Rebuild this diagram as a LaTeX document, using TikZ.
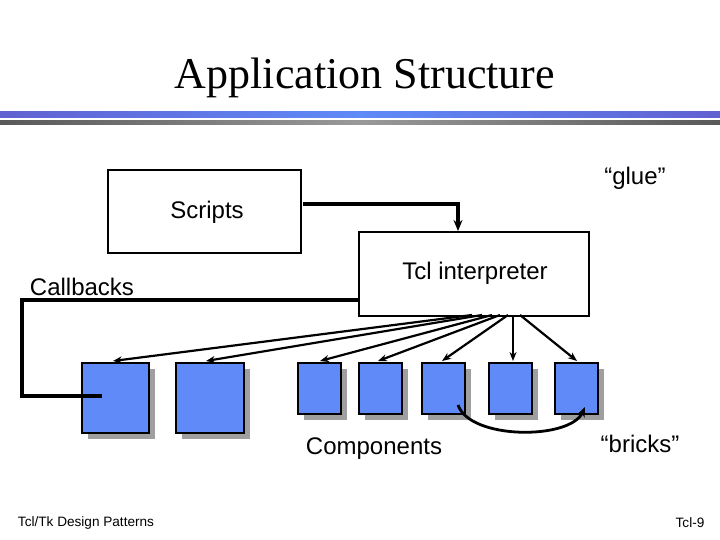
\documentclass[tikz,border=0pt]{standalone}
\usepackage{fontspec}
\setmainfont{Liberation Sans}
\newfontfamily\titlefont{Liberation Serif}
\usetikzlibrary{arrows.meta}
\definecolor{bblue}{HTML}{5F8AF8}
\begin{document}
\begin{tikzpicture}[x=1pt,y=-1pt,
  comp/.style={draw=black,line width=1.8pt,fill=bblue,inner sep=0pt},
  frame/.style={draw=black,line width=2pt,fill=white},
  lbl/.style={font=\fontsize{24}{28}\selectfont,inner sep=0pt},
  small/.style={font=\fontsize{13.6}{16}\selectfont,inner sep=0pt},
  arr/.style={line width=2.2pt,-{Stealth[length=9pt,width=7pt]}},
  thick3/.style={line width=3.4pt}]
\useasboundingbox (0,0) rectangle (720,540);
\node[font=\titlefont\fontsize{44}{50}\selectfont,inner sep=0pt] (title) at (365,78) {Application Structure};
\shade[left color=blue!55!gray!80,right color=blue!55!gray!80,middle color=bblue] (0,112) rectangle (720,118);
\shade[left color=black!65,right color=black!65,middle color=black!40] (0,121) rectangle (720,125);
% boxes
\node[frame,minimum width=193,minimum height=83,anchor=north west] (scripts) at (107,169) {};
\node[lbl] (scriptsl) at (207,212) {Scripts};
\node[frame,minimum width=230,minimum height=84,anchor=north west] (interp) at (358,231) {};
\node[lbl] (interpl) at (475,273) {Tcl interpreter};
\node[lbl] (glue) at (635,178) {“glue”};
\node[lbl] (callb) at (82,287) {Callbacks};
\node[lbl] (compl) at (374,449) {Components};
\node[lbl] (bricks) at (640,444) {“bricks”};
\node[small] (fl) at (86,523) {Tcl/Tk Design Patterns};
\node[small] (fr) at (690,523) {Tcl-9};
% components with shadows
\foreach \n/\x/\y/\w/\h in {c1/81/362/67/70, c2/175/362/68/70, c3/297/362/43/51, c4/358/362/43/51, c5/421/362/43/51, c6/488/362/43/51, c7/554/362/43/51}{
  \fill[gray!75] (\x+7,\y+7) rectangle (\x+\w+7,\y+\h+7);
  \node[comp,minimum width=\w,minimum height=\h,anchor=north west] (\n) at (\x,\y) {};
}
% glue arrow
\coordinate (g1) at (303,204);
\coordinate (g2) at (458,204);
\draw[thick3,-{Stealth[length=11pt,width=9pt]}] (g1) -- (g2) -- (interp.north -| g2);
% callback line
\coordinate (cb1) at (22,300);
\coordinate (cb2) at (22,396);
\coordinate (cb3) at (102,396);
\draw[thick3] (interp.west |- cb1) -- (cb1) -- (cb2) -- (cb3);
% interpreter arrows
\coordinate (s1) at (472,315);
\coordinate (s2) at (482,315);
\coordinate (s3) at (492,315);
\coordinate (s4) at (500,315);
\coordinate (s5) at (508,315);
\coordinate (s6) at (513,315);
\coordinate (s7) at (520,315);
\coordinate (t1) at (113,361);
\coordinate (t2) at (206,361);
\coordinate (t3) at (320,361);
\coordinate (t4) at (378,361);
\coordinate (t5) at (442,361);
\coordinate (t6) at (513,361);
\coordinate (t7) at (577,361);
\foreach \i in {1,...,7}{\draw[arr] (s\i) -- (t\i);}
% bricks arc
\coordinate (a1) at (458,405);
\coordinate (a2) at (585,407);
\draw[line width=2.8pt,-{Stealth[length=10pt,width=8pt]}] (a1) .. controls (470,440) and (570,440) .. (a2);
\end{tikzpicture}
\end{document}
